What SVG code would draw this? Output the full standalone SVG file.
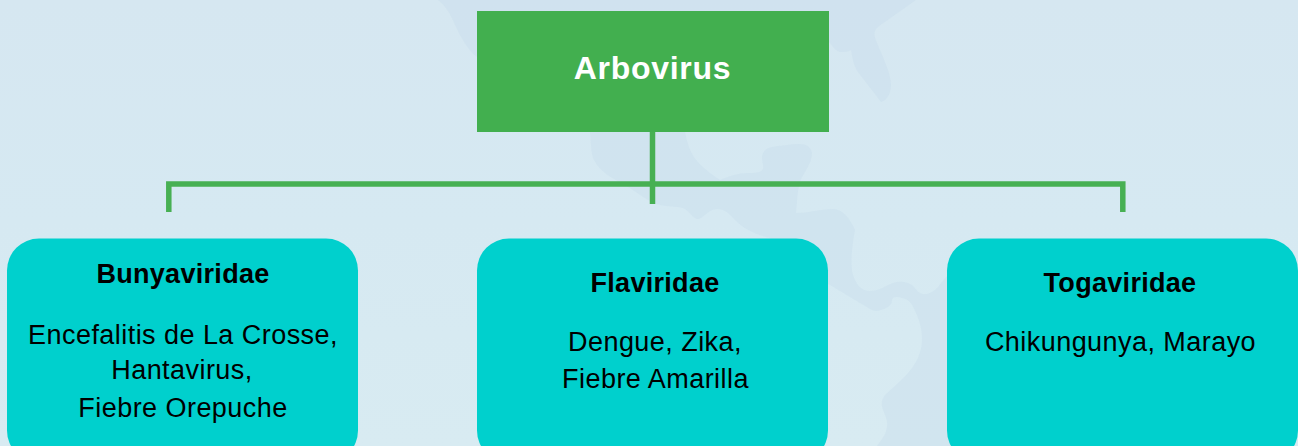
<svg xmlns="http://www.w3.org/2000/svg" width="1298" height="446" viewBox="0 0 1298 446">
<defs><linearGradient id="bg" x1="0" y1="0" x2="0" y2="1"><stop offset="0" stop-color="#d6e7f1"/><stop offset=".5" stop-color="#d6e9f2"/><stop offset="1" stop-color="#d8ebf2"/></linearGradient></defs>
<style>
.map{fill:#c0d8e8;opacity:.27}
.conn{fill:none;stroke:#47b053;stroke-width:5.5}
.box{fill:#00d0cd}
text{font-family:"Liberation Sans",Arial,sans-serif;text-anchor:middle;fill:#000}
.h{font-weight:700;font-size:27px;letter-spacing:.3px}
.b{font-size:27px;letter-spacing:.45px}
</style>
<rect width="1298" height="446" fill="url(#bg)"/>
<g id="map">
<path class="map" d="M438 0C446 6 451 15 455 25C461 38 468 50 477 57V132H590C591 142 591 155 594 160C600 172 612 178 625 185C637 192 648 202 660 205C668 207 677 206 683 208C690 211 693 219 698 219C703 219 708 209 717 209C726 209 729 214 735 220C745 230 755 234 770 238L825 282L870 309C875 312 879 311 884 309C890 306 892 304 892 300C893 296 898 297 902 298C910 299 913 306 916 313C920 322 922 330 922 340C922 352 916 364 908 373C900 382 890 390 885 395C881 400 881 405 883 410C885 415 888 420 887 427C886 435 881 440 877 446H950V273C945 278 941 283 938 287C933 292 928 295 923 294C917 293 916 288 912 285C905 281 899 281 893 283C885 286 879 291 870 291C861 291 856 284 853 275C850 265 852 245 855 230C850 218 842 209 833 209C820 209 810 213 796 213C797 203 797 195 799 185C801 175 812 165 812 153C811 147 806 144 800 144C790 144 780 146 772 147C766 148 762 152 762 158C762 162 764 166 763 169C761 173 755 173 748 173C738 173 730 176 720 180C705 170 693 160 689 147C687 142 686 137 685 132H829V42C833 47 836 51 840 52C845 52 848 52 851 50C852 55 853 65 858 72L881 102C888 100 891 92 891 85C891 75 885 62 880 50C877 42 873 36 875 31C876 28 879 26 882 24L916 0Z"/>
</g>
<g id="connectors">
<path class="conn" d="M652.500 132V204M168.800 212V183.900H1122.800V212"/>
</g>
<g id="arbovirus"><rect x="477" y="11" width="352" height="121" fill="#42af4f"/><text x="652.500" y="79" font-size="32" font-weight="700" letter-spacing=".7" style="fill:#fff">Arbovirus</text></g>
<g id="bunyaviridae"><rect class="box" x="7" y="238.500" width="351" height="224" rx="32"/><text class="h" x="183" y="283">Bunyaviridae</text><text class="b" x="183" y="344">Encefalitis de La Crosse,</text><text class="b" x="182" y="379">Hantavirus,</text><text class="b" x="183" y="417">Fiebre Orepuche</text></g>
<g id="flaviridae"><rect class="box" x="477" y="238.500" width="351" height="224" rx="32"/><text class="h" x="655" y="292">Flaviridae</text><text class="b" x="655" y="351">Dengue, Zika,</text><text class="b" x="655.500" y="388">Fiebre Amarilla</text></g>
<g id="togaviridae"><rect class="box" x="947" y="238.500" width="351" height="224" rx="32"/><text class="h" x="1120" y="292">Togaviridae</text><text class="b" x="1120.500" y="351">Chikungunya, Marayo</text></g>
</svg>
